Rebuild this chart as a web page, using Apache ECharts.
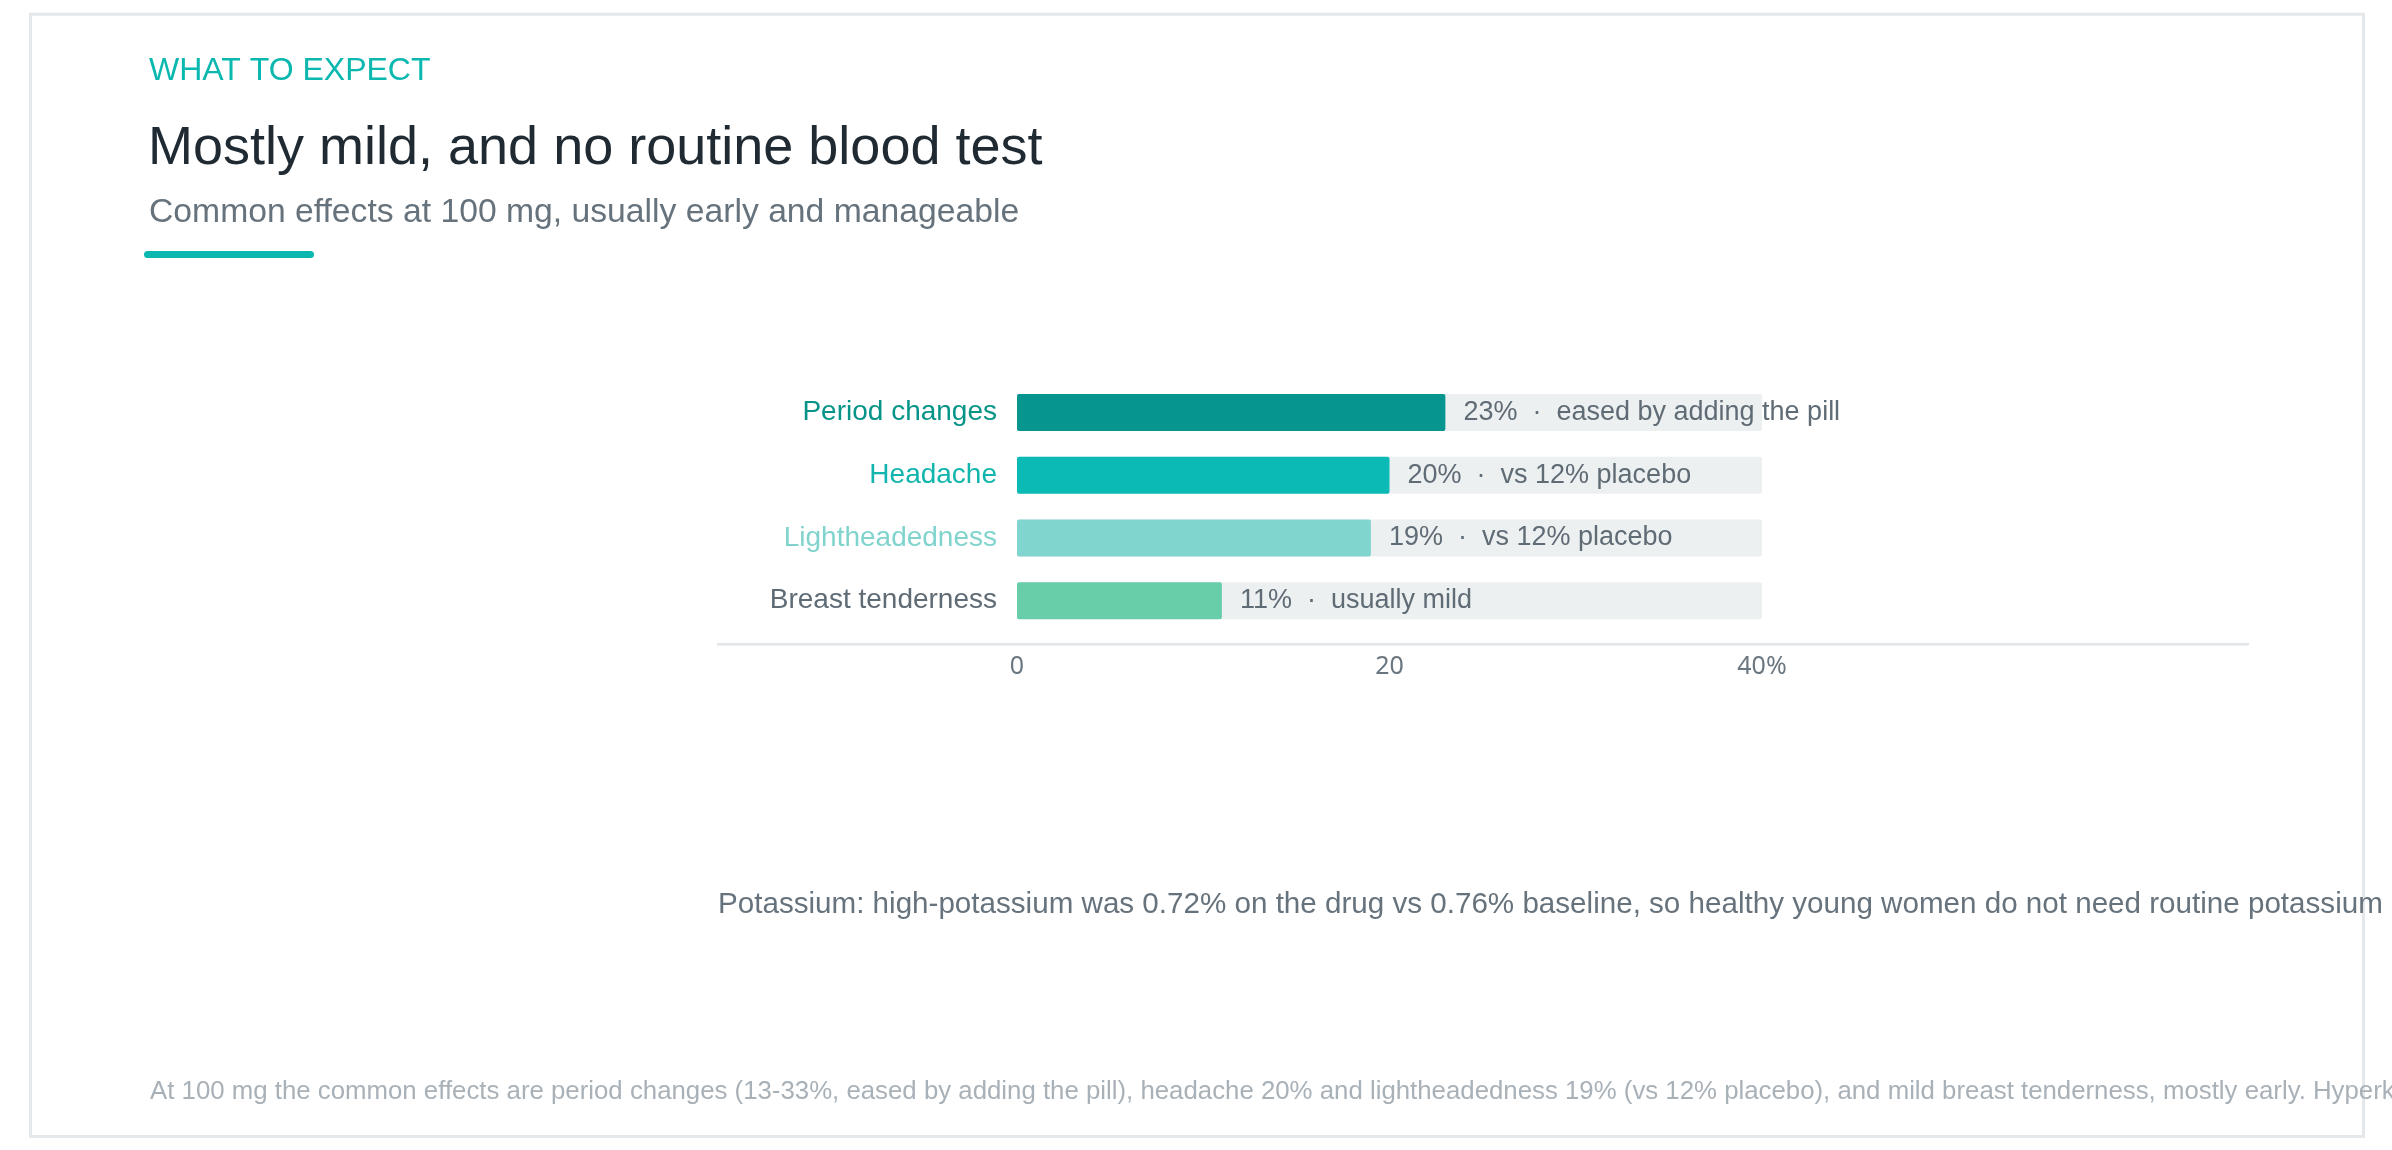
<!DOCTYPE html>
<html>
<head>
<meta charset="utf-8">
<script src="https://cdn.jsdelivr.net/npm/echarts@6/dist/echarts.min.js"></script>
<style>
html,body{margin:0;padding:0;background:#fff;}
#chart{width:2392px;height:1150px;}
</style>
</head>
<body>
<div id="chart"></div>
<script>
const categories = ['Period changes', 'Headache', 'Lightheadedness', 'Breast tenderness'];
const values = [23, 20, 19, 11];
const notes = ['eased by adding the pill', 'vs 12% placebo', 'vs 12% placebo', 'usually mild'];
const barColors = ['#079590', '#0bbab5', '#80d5cf', '#67cea9'];
const labelColors = ['#079488', '#12b5ad', '#80d4cd', '#5f6b75'];
const axisMin = 0, axisMax = 40, axisStep = 20;
const tickLabels = { 0: '0', 20: '20', 40: '40%' };

const eyebrow = 'WHAT TO EXPECT';
const titleText = 'Mostly mild, and no routine blood test';
const subtitleText = 'Common effects at 100 mg, usually early and manageable';
const potassiumText = 'Potassium: high-potassium was 0.72% on the drug vs 0.76% baseline, so healthy young women do not need routine potassium checks.';
const footnoteText = 'At 100 mg the common effects are period changes (13-33%, eased by adding the pill), headache 20% and lightheadedness 19% (vs 12% placebo), and mild breast tenderness, mostly early. Hyperkalemia was not more common than at baseline.';

const FONT = '"Liberation Sans", Arial, Helvetica, sans-serif';
const chart = echarts.init(document.getElementById('chart'));

const option = {
  backgroundColor: '#ffffff',
  animation: false,
  grid: { left: 1017, right: 630, top: 381, height: 251, containLabel: false },
  xAxis: {
    type: 'value', min: axisMin, max: axisMax, interval: axisStep,
    axisLine: { show: false }, axisTick: { show: false }, splitLine: { show: false },
    axisLabel: {
      margin: 22, color: '#6b7780', fontSize: 25, fontFamily: '"Noto Sans", sans-serif',
      formatter: v => tickLabels[v] !== undefined ? tickLabels[v] : String(v)
    }
  },
  yAxis: {
    type: 'category', inverse: true,
    data: categories.map((c, i) => ({ value: c, textStyle: { color: labelColors[i] } })),
    axisLine: { show: false }, axisTick: { show: false },
    axisLabel: { margin: 20, fontSize: 28, fontFamily: FONT }
  },
  series: [{
    type: 'bar',
    barWidth: 37,
    showBackground: true,
    backgroundStyle: { color: '#edf0f1', borderRadius: 2 },
    data: values.map((v, i) => ({ value: v, itemStyle: { color: barColors[i], borderRadius: 2 } })),
    label: {
      show: true, position: 'right', distance: 18,
      color: '#5f6b75', fontSize: 27, fontFamily: FONT,
      formatter: p => values[p.dataIndex] + '%  \u00b7  ' + notes[p.dataIndex]
    }
  }],
  graphic: [
    { type: 'rect', z: 0, silent: true,
      shape: { x: 30.5, y: 14.3, width: 2333, height: 1122.2 },
      style: { fill: 'none', stroke: '#e4e8eb', lineWidth: 3 } },
    { type: 'text', z: 10, x: 149, y: 71,
      style: { text: eyebrow, fill: '#0bb8b0', font: '32px ' + FONT, textVerticalAlign: 'middle' } },
    { type: 'text', z: 10, x: 148, y: 149,
      style: { text: titleText, fill: '#1f2a33', font: '54px ' + FONT, textVerticalAlign: 'middle' } },
    { type: 'text', z: 10, x: 149, y: 212.3,
      style: { text: subtitleText, fill: '#66737d', font: '33.7px ' + FONT, textVerticalAlign: 'middle' } },
    { type: 'rect', z: 10, silent: true,
      shape: { x: 144, y: 251, width: 170, height: 7, r: 3.5 },
      style: { fill: '#0bb8b0' } },
    { type: 'rect', z: 10, silent: true,
      shape: { x: 717, y: 643, width: 1532, height: 2.5 },
      style: { fill: '#e3e6e9' } },
    { type: 'text', z: 10, x: 718, y: 905,
      style: { text: potassiumText, fill: '#66727c', font: '29.6px ' + FONT, textVerticalAlign: 'middle' } },
    { type: 'text', z: 10, x: 150, y: 1091.5,
      style: { text: footnoteText, fill: '#a9b1b8', font: '25.8px ' + FONT, textVerticalAlign: 'middle' } }
  ]
};
chart.setOption(option);
</script>
</body>
</html>
